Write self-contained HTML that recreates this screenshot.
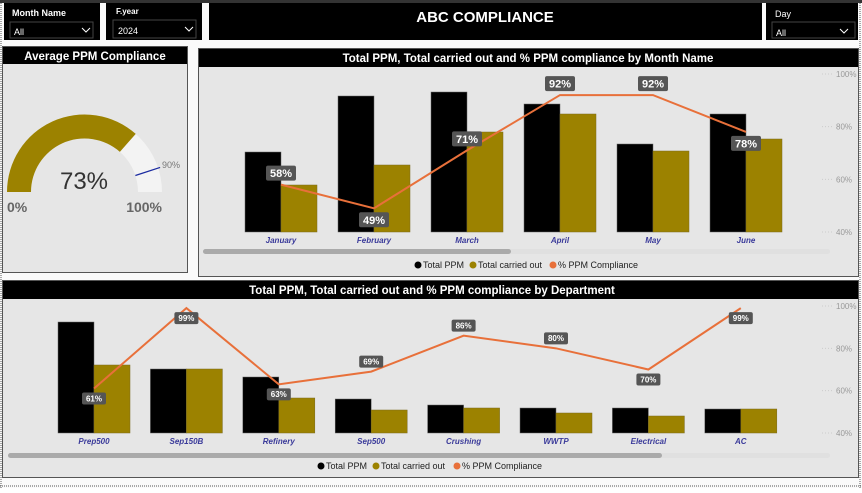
<!DOCTYPE html>
<html><head><meta charset="utf-8">
<style>
html,body{margin:0;padding:0;background:#fff;}
body{width:862px;height:488px;overflow:hidden;font-family:"Liberation Sans","DejaVu Sans",sans-serif;}
svg text{font-family:"Liberation Sans","DejaVu Sans",sans-serif;}
</style></head>
<body>
<svg id="page" width="862" height="488" viewBox="0 0 862 488" xmlns="http://www.w3.org/2000/svg">
  <rect x="0" y="0" width="862" height="488" fill="#fafafa"/>
  <rect x="0" y="0" width="862" height="3" fill="#333"/>
  <line x1="1" y1="3" x2="1" y2="488" stroke="#555" stroke-dasharray="1,1"/>
  <line x1="860" y1="3" x2="860" y2="488" stroke="#555" stroke-dasharray="1,1"/>
  <line x1="0" y1="486" x2="862" y2="486" stroke="#555" stroke-dasharray="1,1"/>

  <!-- slicers -->
  <g>
    <rect x="4" y="3" width="96" height="37" fill="#000"/>
    <text x="12" y="16" fill="#fff" font-size="9" font-weight="bold">Month Name</text>
    <rect x="10" y="22" width="83" height="16" fill="#000" stroke="#444"/>
    <text x="14" y="35" fill="#fff" font-size="9">All</text>
    <path d="M82 28 l4 4 l4 -4" stroke="#fff" fill="none"/>
  </g>
  <g>
    <rect x="106" y="3" width="96" height="37" fill="#000"/>
    <text x="116" y="14" fill="#fff" font-size="8" font-weight="bold">F.year</text>
    <rect x="113" y="20" width="83" height="18" fill="#000" stroke="#444"/>
    <text x="118" y="34" fill="#fff" font-size="9">2024</text>
    <path d="M185 27 l4 4 l4 -4" stroke="#fff" fill="none"/>
  </g>
  <g>
    <rect x="209" y="3" width="553" height="37" fill="#000"/>
    <text x="485" y="22" fill="#fff" font-size="15" font-weight="bold" text-anchor="middle">ABC COMPLIANCE</text>
  </g>
  <g>
    <rect x="766" y="3" width="92" height="37" fill="#000"/>
    <text x="775" y="17" fill="#fff" font-size="9">Day</text>
    <rect x="772" y="22" width="83" height="16" fill="#000" stroke="#444"/>
    <text x="776" y="36" fill="#fff" font-size="9">All</text>
    <path d="M840 29 l4 4 l4 -4" stroke="#fff" fill="none"/>
  </g>

  <!-- gauge panel -->
  <g>
    <rect x="2.5" y="46.5" width="185" height="226" fill="#e6e6e6" stroke="#555"/>
    <rect x="3" y="47" width="184" height="17" fill="#000"/>
    <text x="95" y="60" fill="#fff" font-size="11.5" font-weight="bold" text-anchor="middle">Average PPM Compliance</text>
    <g id="gauge"></g>
    <text x="84" y="189" fill="#333" font-size="24" text-anchor="middle">73%</text>
    <text x="7" y="212" fill="#666" font-size="14" font-weight="bold">0%</text>
    <text x="162" y="212" fill="#666" font-size="14" font-weight="bold" text-anchor="end">100%</text>
    <text x="162" y="168" fill="#777" font-size="9">90%</text>
  </g>

  <!-- month chart panel -->
  <g>
    <rect x="198.5" y="48.5" width="660" height="228" fill="#e6e6e6" stroke="#555"/>
    <rect x="199" y="49" width="659" height="18" fill="#000"/>
    <text x="528" y="62" fill="#fff" font-size="11.5" font-weight="bold" text-anchor="middle">Total PPM, Total carried out and % PPM compliance by Month Name</text>
    <g id="monthChart"></g>
    <rect x="203" y="249" width="627" height="5" rx="2.5" fill="#e0e0e0"/>
    <rect x="203" y="249" width="308" height="5" rx="2.5" fill="#aaa"/>
    <g font-size="9" fill="#222">
      <circle cx="418" cy="265" r="3.5" fill="#000"/><text x="423" y="268">Total PPM</text>
      <circle cx="473" cy="265" r="3.5" fill="#9c8200"/><text x="478" y="268">Total carried out</text>
      <circle cx="553" cy="265" r="3.5" fill="#e8703a"/><text x="558" y="268">% PPM Compliance</text>
    </g>
  </g>

  <!-- department chart panel -->
  <g>
    <rect x="2.5" y="280.5" width="856" height="197" fill="#e6e6e6" stroke="#555"/>
    <rect x="3" y="281" width="855" height="18" fill="#000"/>
    <text x="432" y="294" fill="#fff" font-size="11.5" font-weight="bold" text-anchor="middle">Total PPM, Total carried out and % PPM compliance by Department</text>
    <g id="deptChart"></g>
    <rect x="8" y="453" width="822" height="5" rx="2.5" fill="#e0e0e0"/>
    <rect x="8" y="453" width="654" height="5" rx="2.5" fill="#aaa"/>
    <g font-size="9" fill="#222">
      <circle cx="321" cy="466" r="3.5" fill="#000"/><text x="326" y="469">Total PPM</text>
      <circle cx="376" cy="466" r="3.5" fill="#9c8200"/><text x="381" y="469">Total carried out</text>
      <circle cx="457" cy="466" r="3.5" fill="#e8703a"/><text x="462" y="469">% PPM Compliance</text>
    </g>
  </g>
</svg>
<script>
const NS="http://www.w3.org/2000/svg";
// Gauge data
const gaugeValue=73;
const gaugeTarget=90;
// Month chart data
const months=["January","February","March","April","May","June"];
const monthTotalPPM=[80,136,140,128,88,118];
const monthCarriedOut=[47,67,100,118,81,93];
const monthCompliance=[58,49,71,92,92,78];
const monthLabelPos=["above","below","above","above","above","below"];
// Department chart data
const depts=["Prep500","Sep150B","Refinery","Sep500","Crushing","WWTP","Electrical","AC"];
const deptTotalPPM=[111,64,56,34,28,25,25,24];
const deptCarriedOut=[68,64,35,23,25,20,17,24];
const deptCompliance=[61,99,63,69,86,80,70,99];
const deptLabelPos=["below","below","below","above","above","above","below","below"];
const pctTicks=["100%","80%","60%","40%"];
const pctTickVals=[100,80,60,40];

function mk(tag,attrs,parent){const e=document.createElementNS(NS,tag);for(const k in attrs)e.setAttribute(k,attrs[k]);parent.appendChild(e);return e;}

// gauge
(function(){
  const g=document.getElementById('gauge');
  const cx=84.5,cy=192,ro=77.5,ri=53.5;
  function pt(p,r){const a=Math.PI*(1-p/100);return [cx+r*Math.cos(a),cy-r*Math.sin(a)];}
  function arc(p0,p1){const a=pt(p0,ro),b=pt(p1,ro),c=pt(p1,ri),d=pt(p0,ri);
    return `M${a[0]} ${a[1]} A${ro} ${ro} 0 0 1 ${b[0]} ${b[1]} L${c[0]} ${c[1]} A${ri} ${ri} 0 0 0 ${d[0]} ${d[1]}Z`;}
  const bg=mk('path',{d:arc(0,100),fill:'#f3f3f3'},g);
  
  
  const fg=mk('path',{d:arc(0,gaugeValue),fill:'#9c8200'},g);
  
  
  const t1=pt(gaugeTarget,ri),t2=pt(gaugeTarget,ro+2);
  const tl=mk('line',{x1:t1[0],y1:t1[1],x2:t2[0],y2:t2[1],stroke:'#1a2aa0','stroke-width':1.3},g);
  
  
})();

function drawChart(opts){
  const g=document.getElementById(opts.id);
  const {cats,tot,car,pct,pos,x0,step,bw,base,top,unit,axisX,lblFont,boxW,boxH,prefix}=opts;
  const yP=v=>base-(v-40)/60*(base-top);
  const yB=v=>base-v*unit;
  const xc=i=>x0+i*step;
  pctTicks.forEach((t,i)=>{
    const y=yP(pctTickVals[i]);
    mk('line',{x1:axisX-14,y1:y,x2:axisX-4,y2:y,stroke:'#ccc','stroke-dasharray':'1,2'},g);
    const tx=mk('text',{x:axisX,y:y+3,'font-size':8,fill:'#999'},g);
    tx.textContent=t;
    
    
  });
  cats.forEach((c,i)=>{
    const b1=mk('rect',{x:xc(i)-bw,y:yB(tot[i]),width:bw,height:tot[i]*unit,fill:'#000',stroke:'#666','stroke-width':0.5},g);
    
    
    const b2=mk('rect',{x:xc(i),y:yB(car[i]),width:bw,height:car[i]*unit,fill:'#9c8200',stroke:'#7a6a20','stroke-width':0.5},g);
    
    
    const lb=mk('text',{x:xc(i),y:base+11,'font-size':8,'font-style':'italic','font-weight':'bold',fill:'#3a3a9a','text-anchor':'middle'},g);
    lb.textContent=c;
    
    
  });
  const d=pct.map((v,i)=>(i?'L':'M')+xc(i)+' '+yP(v)).join(' ');
  const ln=mk('path',{d:d,fill:'none',stroke:'#e8703a','stroke-width':2},g);
  
  
  pct.forEach((v,i)=>{
    const py=yP(v);
    const cy=pos[i]==='above'?py-boxH/2-4:py+boxH/2+4;
    const r=mk('rect',{x:xc(i)-boxW/2,y:cy-boxH/2,width:boxW,height:boxH,rx:2,fill:'#555'},g);
    
    
    const t=mk('text',{x:xc(i),y:cy+lblFont*0.36,'font-size':lblFont,'font-weight':'bold',fill:'#fff','text-anchor':'middle'},g);
    t.textContent=v+'%';
    
    
  });
}
drawChart({id:'monthChart',prefix:'month',cats:months,tot:monthTotalPPM,car:monthCarriedOut,pct:monthCompliance,pos:monthLabelPos,
  x0:281,step:93,bw:36,base:232,top:74,unit:1,axisX:836,lblFont:11,boxW:30,boxH:15});
drawChart({id:'deptChart',prefix:'dept',cats:depts,tot:deptTotalPPM,car:deptCarriedOut,pct:deptCompliance,pos:deptLabelPos,
  x0:94,step:92.4,bw:36,base:433,top:306,unit:1,axisX:836,lblFont:8,boxW:24,boxH:12});
</script>
</body></html>
